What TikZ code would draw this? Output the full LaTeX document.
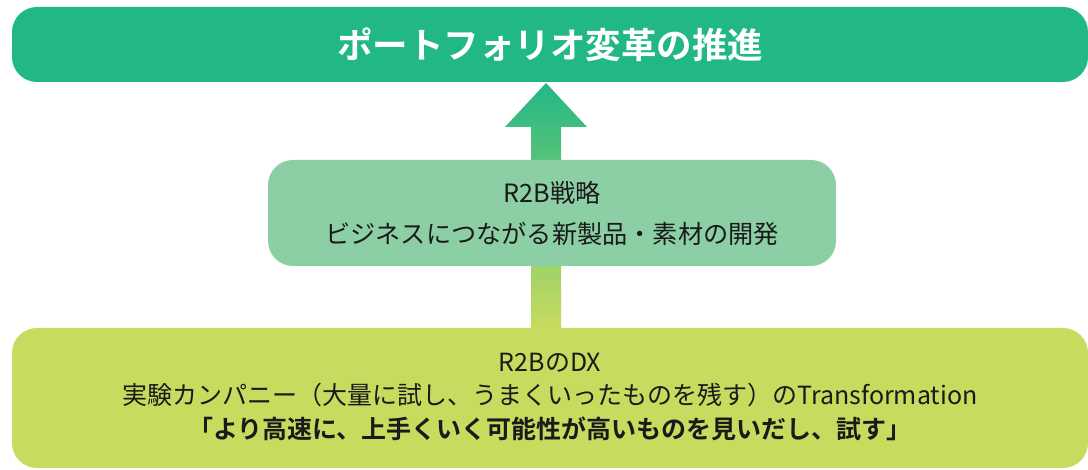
\documentclass[tikz,border=0pt]{standalone}
\usepackage{fontspec}
\usetikzlibrary{calc}
\setmainfont{Noto Sans CJK JP}[BoldFont={Noto Sans CJK JP Bold}]
\definecolor{topgreen}{HTML}{22B886}
\definecolor{midgreen}{HTML}{8DCFA4}
\definecolor{botgreen}{HTML}{C8DB5E}
\definecolor{textdark}{HTML}{1A1A1A}
\tikzset{
  box/.style={rounded corners=25pt, inner sep=0pt, align=center, text=textdark},
}
\begin{document}
\begin{tikzpicture}[x=1pt,y=1pt]
\useasboundingbox (0,0) rectangle (1088,470);
% arrow coordinates
\coordinate (tip) at (546,387);
\coordinate (base) at (546,142);
\shade[bottom color=botgreen, top color=topgreen]
  ($(base)+(-15,0)$) -- ($(base)+(-15,201)$) -- ($(base)+(-41,201)$) -- (tip)
  -- ($(base)+(41,201)$) -- ($(base)+(15,201)$) -- ($(base)+(15,0)$) -- cycle;
\node[box, fill=topgreen, minimum width=1076pt, minimum height=75pt, text=white,
      font=\fontsize{35.5}{40}\selectfont\bfseries] (top) at (550,425.5)
  {ポートフォリオ変革の推進};
\node[box, fill=midgreen, minimum width=568pt, minimum height=106pt,
      font=\fontsize{25.2}{41}\selectfont] (mid) at (552,257)
  {R2B戦略\\ビジネスにつながる新製品・素材の開発};
\node[box, fill=botgreen, minimum width=1076pt, minimum height=140pt,
      font=\fontsize{25}{33.5}\selectfont] (bot) at (550,72)
  {\raisebox{-7pt}{\begin{tabular}{@{}c@{}}R2BのDX\\
   実験カンパニー（大量に試し、うまくいったものを残す）のTransformation\\
   \textbf{「より高速に、上手くいく可能性が高いものを見いだし、試す」}\end{tabular}}};
\end{tikzpicture}
\end{document}
